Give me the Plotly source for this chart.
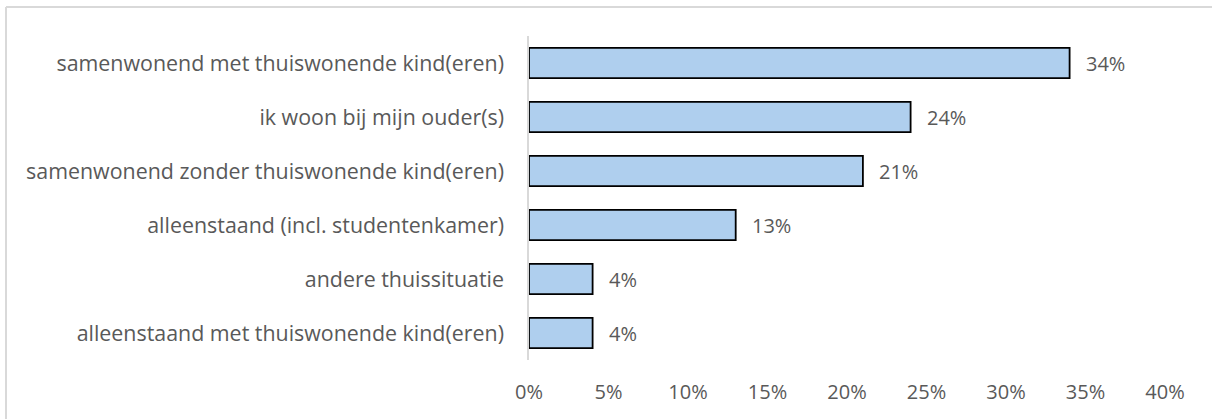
import plotly.graph_objects as go

categories = [
    "samenwonend met thuiswonende kind(eren)",
    "ik woon bij mijn ouder(s)",
    "samenwonend zonder thuiswonende kind(eren)",
    "alleenstaand (incl. studentenkamer)",
    "andere thuissituatie",
    "alleenstaand met thuiswonende kind(eren)",
]
values = [34, 24, 21, 13, 4, 4]
tick_vals = [0, 5, 10, 15, 20, 25, 30, 35, 40]
tick_text = [f"{v}%" for v in tick_vals]
value_labels = [f"{v}%" for v in values]

FONT = "Open Sans"
FS = 20
TEXT = "#595959"

fig = go.Figure(
    go.Bar(
        x=values,
        y=categories,
        orientation="h",
        marker=dict(color="#AFCFEE", line=dict(color="#000000", width=1.8)),
        width=0.56,
        hoverinfo="skip",
    )
)

for c, v, t in zip(categories, values, value_labels):
    fig.add_annotation(
        x=v, y=c, text=t, showarrow=False, xanchor="left", xshift=14,
        font=dict(family=FONT, size=FS, color=TEXT),
    )

W, H = 1212, 419
L, R, T, B = 529, 47, 36, 59
pw, ph = W - L - R, H - T - B
def px(xp):
    return (xp - L) / pw
def py(yp):
    return 1 + (T - yp) / ph

# chart border (top & left visible)
fig.add_shape(type="line", xref="paper", yref="paper", x0=px(6), x1=px(1215),
              y0=py(7), y1=py(7), line=dict(color="#D9D9D9", width=2))
fig.add_shape(type="line", xref="paper", yref="paper", x0=px(6), x1=px(6),
              y0=py(7), y1=py(425), line=dict(color="#D9D9D9", width=2))

fig.update_layout(
    width=W, height=H,
    margin=dict(l=L, r=R, t=T, b=B),
    paper_bgcolor="white", plot_bgcolor="white",
    showlegend=False,
    font=dict(family=FONT, size=FS, color=TEXT),
    xaxis=dict(
        range=[0, 40], tickvals=tick_vals, ticktext=tick_text,
        showgrid=False, zeroline=False, showline=False,
        ticklabelstandoff=18, fixedrange=True,
    ),
    yaxis=dict(
        autorange="reversed", showgrid=False, zeroline=False,
        showline=True, linecolor="#D9D9D9", linewidth=1.5,
        ticks="", ticklabelstandoff=19, fixedrange=True,
        tickfont=dict(family=FONT, size=21.4, color=TEXT),
    ),
)

fig.write_html("out.html", config={"displayModeBar": False},
               post_script="document.body.style.margin='0';")
